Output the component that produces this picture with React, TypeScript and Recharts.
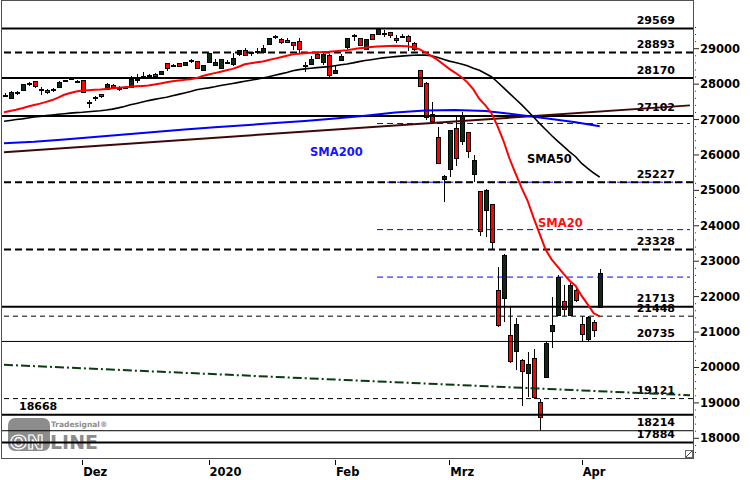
import React from "react";
import { ComposedChart, Bar, Line, XAxis, YAxis, ReferenceLine } from "recharts";

// Dow Jones daily candles, 12.11.2019 – 06.04.2020
const days = [
  "2019-11-12", "2019-11-13", "2019-11-14", "2019-11-15", "2019-11-18", "2019-11-19", "2019-11-20",
  "2019-11-21", "2019-11-22", "2019-11-25", "2019-11-26", "2019-11-27", "2019-11-29",
  "2019-12-02", "2019-12-03", "2019-12-04", "2019-12-05", "2019-12-06", "2019-12-09", "2019-12-10",
  "2019-12-11", "2019-12-12", "2019-12-13", "2019-12-16", "2019-12-17", "2019-12-18", "2019-12-19",
  "2019-12-20", "2019-12-23", "2019-12-24", "2019-12-26", "2019-12-27", "2019-12-30", "2019-12-31",
  "2020-01-02", "2020-01-03", "2020-01-06", "2020-01-07", "2020-01-08", "2020-01-09", "2020-01-10",
  "2020-01-13", "2020-01-14", "2020-01-15", "2020-01-16", "2020-01-17", "2020-01-21", "2020-01-22",
  "2020-01-23", "2020-01-24", "2020-01-27", "2020-01-28", "2020-01-29", "2020-01-30", "2020-01-31",
  "2020-02-03", "2020-02-04", "2020-02-05", "2020-02-06", "2020-02-07", "2020-02-10", "2020-02-11",
  "2020-02-12", "2020-02-13", "2020-02-14", "2020-02-18", "2020-02-19", "2020-02-20", "2020-02-21",
  "2020-02-24", "2020-02-25", "2020-02-26", "2020-02-27", "2020-02-28",
  "2020-03-02", "2020-03-03", "2020-03-04", "2020-03-05", "2020-03-06", "2020-03-09", "2020-03-10",
  "2020-03-11", "2020-03-12", "2020-03-13", "2020-03-16", "2020-03-17", "2020-03-18", "2020-03-19",
  "2020-03-20", "2020-03-23", "2020-03-24", "2020-03-25", "2020-03-26", "2020-03-27", "2020-03-30",
  "2020-03-31", "2020-04-01", "2020-04-02", "2020-04-03", "2020-04-06",
];

const opens = [
  27677, 27617, 27757, 27843, 27997, 28075, 27874, 27839, 27850, 27927, 28110, 28155, 28095,
  28109, 27470, 27630, 27720, 27865, 27977, 27897, 27905, 27930, 28150, 28225, 28230, 28300, 28287,
  28610, 28500, 28587, 28541, 28670, 28663, 28390,
  28620, 28553, 28466, 28630, 28556, 28860, 28960, 28890, 28930, 28910, 29130, 29330, 29270, 29250,
  29180, 29210, 28545, 28580, 28850, 28620, 28830,
  28320, 28690, 29040, 29390, 29290, 29000, 29420, 29420, 29430, 29470, 29300, 29330, 29350, 29160,
  28410, 28020, 27170, 26500, 25330,
  25591, 26763, 26383, 26648, 25470, 24992, 24454, 24602, 22183, 21973, 20917, 20470, 20200, 19830,
  20254, 19029, 19723, 21030, 21469, 21880, 21480, 22195,
  21227, 20800, 21285, 21694,
];
const highs = [
  27760, 27800, 27800, 28010, 28050, 28090, 27930, 27860, 27885, 28075, 28125, 28175, 28120,
  28110, 27560, 27665, 27730, 28030, 28010, 27950, 27945, 28225, 28290, 28340, 28290, 28305, 28380,
  28610, 28580, 28590, 28625, 28700, 28665, 28550,
  28875, 28720, 28710, 28685, 28865, 28960, 29010, 28910, 29010, 29100, 29300, 29375, 29290, 29295,
  29190, 29290, 28635, 28790, 28890, 28880, 28840,
  28545, 28845, 29295, 29410, 29290, 29280, 29415, 29569, 29520, 29470, 29375, 29405, 29390, 29180,
  28410, 28050, 27500, 26780, 25445,
  26710, 27085, 27200, 26650, 25995, 24995, 25025, 24605, 22840, 23190, 21714, 21385, 20230, 20440,
  20530, 19120, 20740, 22000, 22600, 22330, 22375, 22300,
  21460, 21450, 21330, 22790,
];
const lows = [
  27630, 27600, 27680, 27840, 27935, 27890, 27700, 27720, 27790, 27925, 28050, 28130, 28035,
  27765, 27325, 27510, 27600, 27834, 27900, 27815, 27868, 27911, 28040, 28210, 28225, 28225, 28250,
  28375, 28490, 28505, 28535, 28610, 28430, 28375,
  28615, 28500, 28420, 28565, 28520, 28800, 28815, 28790, 28855, 28910, 29105, 29270, 29140, 29165,
  28950, 28885, 28340, 28540, 28710, 28540, 28170,
  28315, 28680, 29000, 29225, 29070, 29000, 29235, 29405, 29335, 29315, 29160, 29290, 28930, 28945,
  27920, 26995, 26915, 25755, 24680,
  25370, 25700, 26280, 25910, 25227, 23700, 23690, 23328, 21150, 21285, 20115, 19940, 18917, 19165,
  19121, 18214, 19700, 20550, 21450, 21448, 21440, 21843,
  20735, 20740, 20863, 21694,
];
const closes = [
  27691, 27784, 27782, 28005, 28036, 27934, 27821, 27766, 27876, 28066, 28122, 28164, 28051,
  27783, 27503, 27650, 27678, 28015, 27910, 27882, 27911, 28132, 28135, 28236, 28267, 28239, 28377,
  28455, 28552, 28515, 28621, 28645, 28462, 28538,
  28869, 28635, 28703, 28584, 28745, 28957, 28824, 28907, 28940, 29030, 29298, 29348, 29196, 29186,
  29100, 28990, 28536, 28723, 28734, 28859, 28256,
  28400, 28808, 29291, 29380, 29103, 29277, 29276, 29551, 29423, 29398, 29232, 29348, 29220, 28992,
  27961, 27081, 26958, 25767, 25409,
  26703, 25917, 27091, 26121, 25865, 23851, 25018, 23553, 21201, 23186, 20189, 21237, 19899, 20087,
  19174, 18592, 20705, 21200, 22552, 21637, 22327, 21917,
  20944, 21413, 21053, 22680,
];

// moving averages
const sma20 = [
  27205, 27240, 27275, 27320, 27370, 27410, 27450, 27500, 27550, 27620, 27700, 27750, 27790,
  27817, 27830, 27840, 27850, 27865, 27880, 27895, 27910, 27925, 27940, 27950, 27960, 27990, 28020,
  28050, 28080, 28100, 28120, 28140, 28170, 28230,
  28270, 28310, 28350, 28390, 28430, 28490, 28560, 28590, 28615, 28640, 28680, 28720, 28760, 28800,
  28840, 28860, 28875, 28885, 28895, 28905, 28915,
  28930, 28945, 28960, 28985, 29010, 29030, 29045, 29060, 29070, 29077, 29080, 29075, 29068, 29040,
  28990, 28900, 28800, 28690, 28560,
  28430, 28320, 28200, 28050, 27850, 27580, 27400, 27180, 26820, 26400, 25900, 25480, 25080, 24714,
  24230, 23780, 23330, 23050, 22850, 22640, 22450, 22300,
  22020, 21780, 21530, 21441,
];
const sma50 = [
  26952, 26975, 27000, 27020, 27045, 27070, 27090, 27110, 27130, 27150, 27165, 27180, 27195,
  27205, 27220, 27235, 27250, 27270, 27295, 27330, 27370, 27415, 27455, 27495, 27535, 27570, 27600,
  27628, 27670, 27710, 27750, 27790, 27840, 27870,
  27895, 27925, 27960, 27990, 28020, 28050, 28080, 28110, 28140, 28175, 28210, 28250, 28290, 28330,
  28380, 28410, 28430, 28450, 28465, 28480, 28494,
  28520, 28545, 28570, 28600, 28635, 28665, 28690, 28715, 28740, 28760, 28776, 28790, 28805, 28815,
  28823, 28820, 28800, 28760, 28700,
  28650, 28610, 28570, 28520, 28450, 28390, 28300, 28210, 28060, 27900, 27740, 27580, 27420, 27250,
  27070, 26890, 26720, 26550, 26390, 26240, 26090, 25950,
  25760, 25620, 25490, 25374,
];
const sma200At = [0, 5, 10, 15, 20, 25, 30, 35, 40, 45, 50, 55, 60, 65, 70, 75, 80, 85, 90, 95, 99];
const sma200 = [
  26330, 26370, 26440, 26510, 26580, 26650, 26720, 26780, 26840, 26900, 26960,
  27030, 27110, 27200, 27255, 27272, 27240, 27145, 27035, 26925, 26810,
];

// trend lines (start / end value), fibonacci levels from the Feb high
const brownTrend = [26080, 27400];
const greenTrend = [20075, 19215];
const fibFrom = 62;
const fibLevels = [26889, 25231, 23892, 22552];

// horizontal support / resistance levels
const levels = [29569, 28893, 28170, 27102, 25227, 23328, 21713, 21448, 20735, 19121, 18668, 18214, 17884];
const levelStyle = [
  "thick", "thickDash", "thick", "thick", "thickDash", "thickDash", "thick",
  "dash", "thin", "dash", "thick", "thin", "thick",
];

const monthTicks = [13, 34, 55, 74, 96];
const monthLabels = ["Dez", "2020", "Feb", "Mrz", "Apr"];
const yLabels = [18000, 19000, 20000, 21000, 22000, 23000, 24000, 25000, 26000, 27000, 28000, 29000];

const SLOTS = 115;
const FONT = "'DejaVu Sans', Verdana, sans-serif";

const yTicks: number[] = [];
for (let v = 17600; v <= 29600; v += 200) yTicks.push(v);

const rows = Array.from({ length: SLOTS }, (_, i) => {
  const r: any = { i };
  if (i < days.length) {
    r.day = days[i];
    r.o = opens[i];
    r.h = highs[i];
    r.l = lows[i];
    r.c = closes[i];
    r.range = [lows[i], highs[i]];
    r.sma20 = sma20[i];
    r.sma50 = sma50[i];
  }
  const k = sma200At.indexOf(i);
  if (k >= 0) r.sma200 = sma200[k];
  if (i === 0) {
    r.brown = brownTrend[0];
    r.green = greenTrend[0];
  }
  if (i === SLOTS - 1) {
    r.brown = brownTrend[1];
    r.green = greenTrend[1];
  }
  if (i === fibFrom || i === SLOTS - 1) {
    fibLevels.forEach((f, j) => (r["fib" + j] = f));
  }
  return r;
});

function Candle(props: any) {
  const { x, y, width, height, payload } = props;
  if (!payload || payload.o == null) return <g />;
  const { o, h, l, c } = payload;
  const span = h - l || 1;
  const py = (v: number) => y + ((h - v) / span) * height;
  const cx = Math.round(x + width / 2);
  const top = Math.round(py(Math.max(o, c)));
  const bot = Math.round(py(Math.min(o, c)));
  const up = c >= o;
  return (
    <g>
      <line x1={cx + 0.5} x2={cx + 0.5} y1={Math.round(y)} y2={Math.round(y + height)} stroke="#000" strokeWidth={1} />
      <rect
        x={cx - 1.5}
        y={top + 0.5}
        width={4}
        height={Math.max(bot - top, 1)}
        fill={up ? "#0f2a14" : "#ff0000"}
        stroke="#000"
        strokeWidth={1}
      />
    </g>
  );
}

function LevelLabel(props: any) {
  const { viewBox, text, left } = props;
  if (!viewBox) return null;
  const lx = left ? viewBox.x + 18 : viewBox.x + viewBox.width - 18;
  return (
    <text
      x={lx}
      y={viewBox.y - 4.5}
      textAnchor={left ? "start" : "end"}
      fontFamily={FONT}
      fontWeight="bold"
      fontSize={11}
      fill="#000"
    >
      {text}
    </text>
  );
}

function YTick(props: any) {
  const { x, y, payload } = props;
  const v = payload.value;
  if (yLabels.indexOf(v) < 0) {
    return <line x1={x + 2} x2={x + 3} y1={y} y2={y} stroke="#333" strokeWidth={1} />;
  }
  return (
    <g>
      <line x1={x + 1} x2={x + 6} y1={y} y2={y} stroke="#222" strokeWidth={1} />
      <text x={x + 7} y={y + 4} fontFamily={FONT} fontWeight="bold" fontSize={11.5} fill="#000">
        {v}
      </text>
    </g>
  );
}

function XTick(props: any) {
  const { x, y, payload } = props;
  const k = monthTicks.indexOf(payload.value);
  if (k < 0) return <g />;
  const tx = Math.round(x) + 0.5;
  return (
    <g>
      <line x1={tx} x2={tx} y1={y + 2} y2={y + 7} stroke="#000" strokeWidth={1} />
      <text x={x + 1} y={y + 18} fontFamily={FONT} fontWeight="bold" fontSize={11.5} fill="#000">
        {monthLabels[k]}
      </text>
    </g>
  );
}

const styleOf = (s: string) => {
  switch (s) {
    case "thick":
      return { strokeWidth: 2 };
    case "thickDash":
      return { strokeWidth: 2, strokeDasharray: "7 4" };
    case "dash":
      return { strokeWidth: 1, strokeDasharray: "5 4" };
    default:
      return { strokeWidth: 1 };
  }
};

export default function App() {
  return (
    <div style={{ position: "absolute", left: 0, top: 0, width: 750, height: 480, background: "#fff" }}>
      {/* logo, underneath the chart */}
      <svg width={750} height={480} style={{ position: "absolute", left: 0, top: 0 }}>
        <rect x={8} y={418} width={42} height={33} rx={7} fill="#8c8c8c" />
        <text x={10} y={449} fontFamily={FONT} fontWeight="bold" fontSize={20} fill="#8c8c8c" stroke="#fff" strokeWidth={1.2}>
          ON
        </text>
        <text x={50} y={449} fontFamily={FONT} fontWeight="bold" fontSize={19} fill="#8c8c8c">
          LINE
        </text>
        <text x={51} y={427} fontFamily={FONT} fontWeight="bold" fontSize={7.5} fill="#8c8c8c">
          Tradesignal®
        </text>
      </svg>

      <div style={{ position: "absolute", left: 0, top: 0 }}>
        <ComposedChart
          width={750}
          height={480}
          data={rows}
          margin={{ top: 1, right: 0, left: 1, bottom: 0 }}
          style={{ fontFamily: FONT }}
        >
          <XAxis
            dataKey="i"
            type="category"
            interval={0}
            height={22}
            tickSize={0}
            tickMargin={0}
            axisLine={false}
            tickLine={false}
            tick={<XTick />}
          />
          <YAxis
            orientation="right"
            width={57}
            domain={[17444, 30347]}
            allowDataOverflow
            ticks={yTicks}
            interval={0}
            tickSize={0}
            tickMargin={0}
            axisLine={false}
            tickLine={false}
            tick={<YTick />}
          />

          {fibLevels.map((f, j) => (
            <Line
              key={"fib" + j}
              dataKey={"fib" + j}
              stroke="#0000ff"
              strokeWidth={1}
              strokeDasharray="6 4"
              dot={false}
              connectNulls
              isAnimationActive={false}
            />
          ))}

          {levels.map((v, j) => (
            <ReferenceLine
              key={"lvl" + v}
              y={v}
              stroke="#000"
              {...styleOf(levelStyle[j])}
              label={<LevelLabel text={String(v)} left={v === 18668} />}
            />
          ))}

          <Line dataKey="brown" stroke="#3e0808" strokeWidth={2} dot={false} connectNulls isAnimationActive={false} />
          <Line
            dataKey="green"
            stroke="#0b3b0f"
            strokeWidth={2}
            strokeDasharray="9 3 2 3"
            dot={false}
            connectNulls
            isAnimationActive={false}
          />
          <Line dataKey="sma200" stroke="#0000ff" strokeWidth={2} dot={false} connectNulls isAnimationActive={false} />

          <Bar dataKey="range" barSize={5} shape={<Candle />} isAnimationActive={false} />

          <Line dataKey="sma50" stroke="#000" strokeWidth={1.6} dot={false} isAnimationActive={false} />
          <Line dataKey="sma20" stroke="#ff0000" strokeWidth={2} dot={false} isAnimationActive={false} />
        </ComposedChart>
      </div>

      {/* frame, annotations */}
      <svg width={750} height={480} style={{ position: "absolute", left: 0, top: 0, pointerEvents: "none" }}>
        <rect x={1.5} y={0.5} width={692} height={458} fill="none" stroke="#505050" strokeWidth={1} />
        <text x={310} y={155.5} fontFamily={FONT} fontWeight="bold" fontSize={11.5} fill="#1414ff">
          SMA200
        </text>
        <text x={527} y={163} fontFamily={FONT} fontWeight="bold" fontSize={11.5} fill="#000">
          SMA50
        </text>
        <text x={538} y={226.5} fontFamily={FONT} fontWeight="bold" fontSize={11.5} fill="#ff1010">
          SMA20
        </text>
        <rect x={685.5} y={450.5} width={7} height={7} fill="#fff" stroke="#666" strokeWidth={1} />
        <line x1={686} y1={457} x2={692} y2={451} stroke="#444" strokeWidth={1} />
      </svg>
    </div>
  );
}
